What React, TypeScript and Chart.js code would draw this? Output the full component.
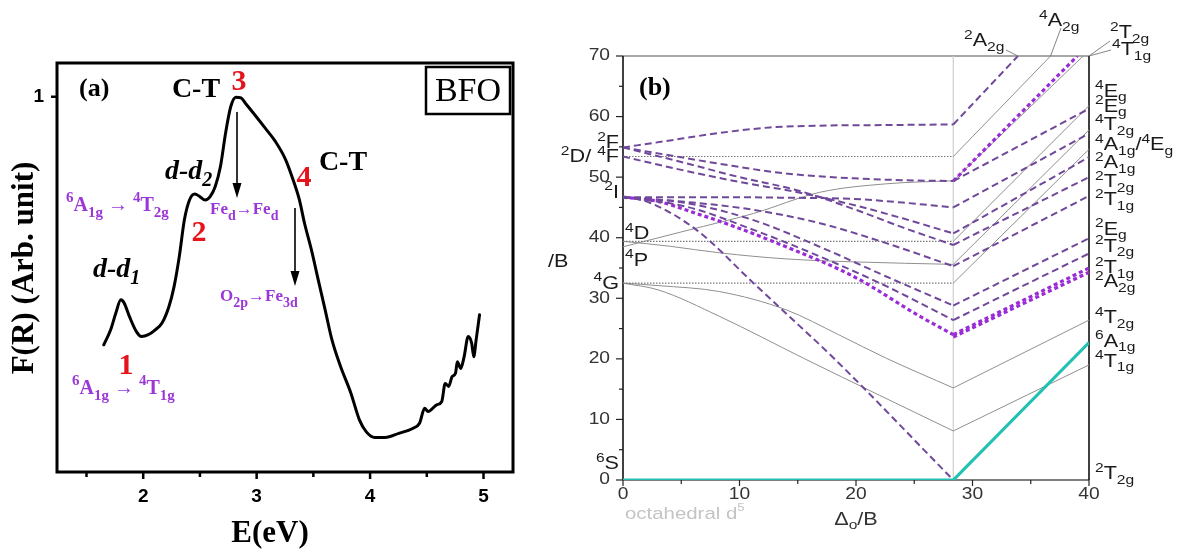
import React, { useEffect, useRef } from 'react';
import { Chart, registerables } from 'chart.js';

Chart.register(...registerables);

const SANS = '"Liberation Sans", Arial, Helvetica, sans-serif';
const SERIF = '"Liberation Serif", "Times New Roman", Times, serif';

// ================= Panel (a): F(R) spectrum of BFO =================
const energyEV = [
  1.652, 1.713, 1.758, 1.803, 1.833, 1.879, 1.94, 1.985, 2.045, 2.106,
  2.166, 2.227, 2.272, 2.318, 2.363, 2.408, 2.454, 2.499, 2.545, 2.59,
  2.635, 2.681, 2.726, 2.772, 2.817, 2.862, 2.908, 2.983, 3.074, 3.165,
  3.256, 3.331, 3.377, 3.422, 3.483, 3.543, 3.604, 3.664, 3.74, 3.831,
  3.906, 3.967, 4.042, 4.133, 4.253, 4.375, 4.436, 4.481, 4.511, 4.587,
  4.632, 4.662, 4.693, 4.723, 4.753, 4.769, 4.799, 4.829, 4.865, 4.896,
  4.914, 4.935, 4.965,
];
const reflectanceF = [
  0.339, 0.379, 0.423, 0.459, 0.45, 0.414, 0.374, 0.361, 0.366, 0.379,
  0.397, 0.441, 0.494, 0.574, 0.672, 0.725, 0.741, 0.734, 0.725, 0.734,
  0.761, 0.814, 0.903, 0.974, 0.999, 0.997, 0.98, 0.952, 0.917, 0.881,
  0.832, 0.77, 0.725, 0.663, 0.592, 0.512, 0.432, 0.352, 0.281, 0.21,
  0.139, 0.107, 0.092, 0.092, 0.103, 0.116, 0.13, 0.17, 0.161, 0.179,
  0.188, 0.236, 0.228, 0.254, 0.263, 0.294, 0.276, 0.307, 0.361, 0.343,
  0.307, 0.352, 0.419,
];
const aXMajorTicks = [2, 3, 4, 5];
const aXMinorTicks = [1.5, 2.5, 3.5, 4.5];
const aYTicks = [1];

// ================= Panel (b): Tanabe–Sugano diagram, d5 =================
const tsXTicks = [0, 10, 20, 30, 40];
const tsYTicks = [0, 10, 20, 30, 40, 50, 60, 70];
const tsMinorTicks = [5, 15, 25, 35, 45, 55, 65];

// doublet states, weak-field branch  [Δo/B, E/B]
const dblWeakA = [[0, 54.9], [3.5, 55.9], [8.3, 57.3], [12.6, 58.2], [16.9, 58.5], [22.6, 58.6], [28.35, 58.7]];
const dblWeakB = [[0, 54.9], [4, 53.6], [8.3, 52.2], [14, 50.6], [19.8, 49.8], [24, 49.5], [28.35, 49.35]];
const dblWeakC = [[0, 53.4], [5, 51.2], [10, 49.2], [15, 47.5], [20, 45.3], [24, 43.2], [28.35, 40.7]];
const dblWeakD = [[0, 54.9], [5, 52.5], [10, 50.0], [15, 47.8], [20, 44.6], [24, 41.7], [28.35, 38.8]];
const dblWeakE = [[0, 46.7], [8, 46.7], [14, 46.6], [19.8, 46.4], [24, 45.8], [28.35, 45.0]];
const dblWeakF = [[0, 46.7], [5.5, 45.9], [11.2, 44.6], [16.9, 42.4], [22.6, 39.1], [28.35, 35.3]];
const dblWeakG = [[0, 46.7], [5.5, 45.7], [11.2, 42.9], [16.9, 38.5], [22.6, 33.6], [28.35, 28.8]];
const dblWeakH = [[0, 46.7], [5.5, 45.1], [11.2, 41.3], [16.9, 36.9], [22.6, 32.0], [28.35, 26.4]];
const dblWeakI = [[0, 46.7], [3, 46.0], [6.3, 44.0], [9.2, 42.1], [14, 38.5], [19.8, 33.6], [25.5, 27.0], [28.35, 24.0]];
const dblWeakJ = [[0, 46.7], [2, 46.0], [6.3, 41.3], [11.2, 32.5], [14, 27.5], [18.1, 20.1], [28.35, 0]];

// doublet states, strong-field branch
const dblStrongA = [[28.35, 58.7], [33.9, 70]];
const dblStrongB1 = [[28.35, 49.35], [39.0, 70]];
const dblStrongB2 = [[28.35, 49.35], [40, 61.3]];
const dblStrongE = [[28.35, 45.0], [40, 57.2]];
const dblStrongC = [[28.35, 40.7], [40, 53.3]];
const dblStrongD = [[28.35, 38.8], [40, 50.0]];
const dblStrongF = [[28.35, 35.3], [40, 46.9]];
const dblStrongG = [[28.35, 28.8], [40, 39.9]];
const dblStrongH = [[28.35, 26.4], [40, 37.4]];
const dblStrongI1 = [[28.35, 24.0], [40, 35.0]];
const dblStrongI2 = [[28.35, 23.6], [40, 34.3]];

// quartet states
const qtFlat4F = [[0, 53.4], [28.35, 53.4]];
const qtFlat4D = [[0, 39.4], [28.35, 39.4]];
const qtFlat4G = [[0, 32.5], [28.35, 32.5]];
const qtWeak4P = [[0, 39.4], [4, 38.6], [8.3, 37.5], [14, 36.5], [20, 36.0], [28.35, 35.6]];
const qtWeak4Drise = [[0, 38.5], [5.5, 41.2], [11.2, 44.0], [16.9, 47.5], [22.6, 48.9], [28.35, 49.4]];
const qtWeak4T2g = [[0, 32.5], [3, 32.1], [8.3, 31.1], [14, 28.1], [18.5, 24.0], [22.6, 20.1], [28.35, 15.2]];
const qtWeak4T1g = [[0, 32.5], [3, 31.4], [8.3, 27.0], [15.5, 20.1], [22, 14.0], [28.35, 8.1]];
const qtStrong4A2g = [[28.35, 53.4], [36.7, 70]];
const qtStrong4T1gHi = [[28.35, 49.4], [39.5, 70]];
const qtStrong4Eg = [[28.35, 39.4], [40, 61.8]];
const qtStrong4T2gHi = [[28.35, 35.6], [40, 57.8]];
const qtStrong4A1g = [[28.35, 32.5], [40, 54.6]];
const qtStrong4T2g = [[28.35, 15.2], [40, 26.4]];
const qtStrong4T1g = [[28.35, 8.1], [40, 19.0]];

// sextet ground state
const sextet6A1g = [[0, 0], [28.35, 0], [40, 22.7]];
const crossoverLine = [[28.35, 0], [28.35, 70]];

// term labels
const rightTerms = ['^{4}E_{g}', '^{2}E_{g}', '^{4}T_{2g}', '^{4}A_{1g}/^{4}E_{g}', '^{2}A_{1g}', '^{2}T_{2g}', '^{2}T_{1g}', '^{2}E_{g}', '^{2}T_{2g}', '^{2}T_{1g}', '^{2}A_{2g}', '^{4}T_{2g}', '^{6}A_{1g}', '^{4}T_{1g}', '^{2}T_{2g}'];
const rightTermLevels = [64.1, 61.6, 58.6, 55.3, 52.3, 49.2, 46.2, 41.3, 38.5, 35.0, 32.7, 26.7, 22.8, 19.5, 1.0];
const freeIonTerms = ['^{2}F', '^{2}D/ ^{4}F', '^{2}I', '^{4}G', '^{6}S'];
const freeIonLevels = [55.6, 53.3, 47.4, 32.4, 2.6];
const innerTerms = ['^{4}D', '^{4}P'];
const innerLevels = [40.6, 36.2];
const topTerms = ['^{2}A_{2g}', '^{4}A_{2g}', '^{2}T_{2g}', '^{4}T_{1g}'];
const topTermAnchors = [[33.9, 70], [36.7, 70], [40, 70], [40, 70]];

// ================= text helpers =================
type Seg = { t: string; k: 'n' | 'sup' | 'sub' };
function parseTerm(s: string): Seg[] {
  const out: Seg[] = [];
  let i = 0;
  while (i < s.length) {
    const c = s[i];
    if ((c === '^' || c === '_') && s[i + 1] === '{') {
      const end = s.indexOf('}', i);
      out.push({ t: s.slice(i + 2, end), k: c === '^' ? 'sup' : 'sub' });
      i = end + 1;
    } else {
      let j = i;
      while (j < s.length && !((s[j] === '^' || s[j] === '_') && s[j + 1] === '{')) j++;
      out.push({ t: s.slice(i, j), k: 'n' });
      i = j;
    }
  }
  return out;
}

interface RichOpts {
  size: number; small?: number; family: string; weight?: string; style?: string;
  color: string; align?: 'left' | 'right' | 'center'; sx?: number; sup?: number; sub?: number;
}

function drawRich(ctx: CanvasRenderingContext2D, s: string, x: number, y: number, o: RichOpts) {
  const segs = parseTerm(s);
  const small = o.small ?? Math.round(o.size * 0.7);
  const sx = o.sx ?? 1;
  const f = (k: Seg['k']) => `${o.style ?? 'normal'} ${o.weight ?? 'normal'} ${k === 'n' ? o.size : small}px ${o.family}`;
  ctx.save();
  ctx.textBaseline = 'middle';
  ctx.textAlign = 'left';
  ctx.fillStyle = o.color;
  const ws = segs.map((sg) => { ctx.font = f(sg.k); return ctx.measureText(sg.t).width; });
  const total = ws.reduce((p, q) => p + q, 0) * sx;
  const x0 = o.align === 'right' ? x - total : o.align === 'center' ? x - total / 2 : x;
  ctx.translate(x0, y);
  ctx.scale(sx, 1);
  let px = 0;
  segs.forEach((sg, i) => {
    ctx.font = f(sg.k);
    const dy = sg.k === 'sup' ? -(o.sup ?? o.size * 0.36) : sg.k === 'sub' ? (o.sub ?? o.size * 0.32) : 0;
    ctx.fillText(sg.t, px, dy);
    px += ws[i];
  });
  ctx.restore();
}

function seg(ctx: CanvasRenderingContext2D, x1: number, y1: number, x2: number, y2: number, color: string, w: number) {
  ctx.beginPath();
  ctx.strokeStyle = color;
  ctx.lineWidth = w;
  ctx.moveTo(x1, y1);
  ctx.lineTo(x2, y2);
  ctx.stroke();
}

function arrowDown(ctx: CanvasRenderingContext2D, x: number, y1: number, y2: number) {
  seg(ctx, x, y1, x, y2 - 10, '#000', 1.6);
  ctx.beginPath();
  ctx.fillStyle = '#000';
  ctx.moveTo(x, y2);
  ctx.lineTo(x - 4.5, y2 - 15);
  ctx.lineTo(x + 4.5, y2 - 15);
  ctx.closePath();
  ctx.fill();
}

// ================= Panel (a) chart =================
const PURPLE = '#9b37d8';
const RED = '#e5141c';

const panelADecor = {
  id: 'panelADecor',
  afterDraw(chart: any) {
    const { ctx, chartArea: a, scales } = chart;
    const x = scales.x;
    const y = scales.y;
    ctx.save();
    // frame
    ctx.strokeStyle = '#000';
    ctx.lineWidth = 3;
    ctx.strokeRect(a.left, a.top, a.right - a.left, a.bottom - a.top);
    // ticks
    aXMajorTicks.forEach((v) => { const px = x.getPixelForValue(v); seg(ctx, px, a.bottom, px, a.bottom + 7, '#000', 2.5); });
    aXMinorTicks.forEach((v) => { const px = x.getPixelForValue(v); seg(ctx, px, a.bottom, px, a.bottom + 5, '#000', 2.5); });
    aYTicks.forEach((v) => { const py = y.getPixelForValue(v); seg(ctx, a.left - 6, py, a.left, py, '#000', 2.5); });

    // axis titles
    ctx.fillStyle = '#000';
    ctx.textAlign = 'center';
    ctx.textBaseline = 'middle';
    ctx.font = `bold 31px ${SERIF}`;
    ctx.fillText('E(eV)', 270, 534);
    ctx.save();
    ctx.translate(25, 268);
    ctx.rotate(-Math.PI / 2);
    ctx.fillText('F(R) (Arb. unit)', 0, 0);
    ctx.restore();

    // panel label & sample box
    ctx.font = `bold 26px ${SERIF}`;
    ctx.textAlign = 'left';
    ctx.fillText('(a)', 79, 89);
    ctx.lineWidth = 2.5;
    ctx.strokeRect(426, 67, 84, 47);
    ctx.font = `34px ${SERIF}`;
    ctx.textAlign = 'center';
    ctx.fillText('BFO', 468, 92);

    // C-T labels
    ctx.font = `bold 28px ${SERIF}`;
    ctx.fillText('C-T', 196, 90);
    ctx.fillText('C-T', 343, 163);

    // red markers
    ctx.fillStyle = RED;
    ctx.font = `bold 30px ${SERIF}`;
    ctx.fillText('3', 239, 82);
    ctx.fillText('4', 304, 178);
    ctx.fillText('2', 199, 233);
    ctx.fillText('1', 126, 366);

    // d-d labels
    drawRich(ctx, 'd-d_{2}', 165, 172, { size: 28, small: 20, family: SERIF, weight: 'bold', style: 'italic', color: '#000', sub: 9 });
    drawRich(ctx, 'd-d_{1}', 93, 270, { size: 28, small: 20, family: SERIF, weight: 'bold', style: 'italic', color: '#000', sub: 9 });

    // transitions
    drawRich(ctx, '^{6}A_{1g} \u2192 ^{4}T_{2g}', 66, 206, { size: 20, small: 15, family: SERIF, weight: 'bold', color: PURPLE, sup: 8, sub: 7 });
    drawRich(ctx, '^{6}A_{1g} \u2192 ^{4}T_{1g}', 72, 389, { size: 20, small: 15, family: SERIF, weight: 'bold', color: PURPLE, sup: 8, sub: 7 });
    drawRich(ctx, 'Fe_{d}\u2192Fe_{d}', 210, 210, { size: 17, small: 14, family: SERIF, weight: 'bold', color: PURPLE, sub: 6 });
    drawRich(ctx, 'O_{2p}\u2192Fe_{3d}', 220, 297, { size: 17, small: 14, family: SERIF, weight: 'bold', color: PURPLE, sub: 6 });

    // arrows
    arrowDown(ctx, 237, 112, 198);
    arrowDown(ctx, 295, 208, 286);
    ctx.restore();
  },
};

function buildChartA(canvas: HTMLCanvasElement) {
  return new Chart(canvas, {
    type: 'scatter',
    data: {
      datasets: [
        {
          data: energyEV.map((e, i) => ({ x: e, y: reflectanceF[i] })),
          showLine: true,
          borderColor: '#000',
          borderWidth: 3,
          pointRadius: 0,
          tension: 0.3,
          cubicInterpolationMode: 'monotone',
          borderJoinStyle: 'round',
          borderCapStyle: 'round',
        } as any,
      ],
    },
    options: {
      responsive: false,
      maintainAspectRatio: false,
      animation: false,
      events: [],
      layout: { padding: { left: 0, top: 63, right: 27, bottom: 0 } },
      plugins: { legend: { display: false }, tooltip: { enabled: false } },
      scales: {
        x: {
          type: 'linear',
          min: 1.24,
          max: 5.26,
          afterBuildTicks: (s: any) => { s.ticks = aXMajorTicks.map((v) => ({ value: v })); },
          afterFit: (s: any) => { s.height = 85; },
          grid: { display: false, drawTicks: false },
          border: { display: false },
          ticks: { color: '#000', font: { family: SANS, size: 19, weight: 'bold' }, padding: 13 },
        },
        y: {
          type: 'linear',
          min: 0,
          max: 1.09,
          afterBuildTicks: (s: any) => { s.ticks = aYTicks.map((v) => ({ value: v })); },
          afterFit: (s: any) => { s.width = 57; },
          grid: { display: false, drawTicks: false },
          border: { display: false },
          ticks: { color: '#000', font: { family: SANS, size: 19, weight: 'bold' }, padding: 13 },
        },
      },
    } as any,
    plugins: [panelADecor as any],
  });
}

// ================= Panel (b) chart =================
const TS_TEXT = '#1a1a1a';
const SX = 1.2;
const termOpts = (align: 'left' | 'right' | 'center'): RichOpts => ({ size: 18, small: 13, family: SANS, color: TS_TEXT, align, sx: SX, sup: 6, sub: 6 });

const panelBDecor = {
  id: 'panelBDecor',
  beforeDatasetsDraw(chart: any) {
    const { ctx, chartArea: a, scales } = chart;
    const x = scales.x;
    const y = scales.y;
    ctx.save();
    seg(ctx, a.left, a.top, a.right, a.top, '#8a8a8a', 1.3);
    seg(ctx, a.left, a.bottom, a.right, a.bottom, '#555', 1.3);
    seg(ctx, a.left, a.top, a.left, a.bottom, '#111', 1.6);
    seg(ctx, a.right, a.top, a.right, a.bottom, '#111', 1.6);
    tsYTicks.forEach((v) => { const py = y.getPixelForValue(v); seg(ctx, a.left - 7, py, a.left, py, '#222', 1.2); });
    tsMinorTicks.forEach((v) => { const py = y.getPixelForValue(v); seg(ctx, a.left - 4, py, a.left, py, '#222', 1.2); });
    tsXTicks.forEach((v) => { const px = x.getPixelForValue(v); seg(ctx, px, a.bottom, px, a.bottom + 6, '#222', 1.2); });
    tsMinorTicks.filter((v) => v < 40).forEach((v) => { const px = x.getPixelForValue(v); seg(ctx, px, a.bottom, px, a.bottom + 4, '#222', 1.2); });
    ctx.restore();
  },
  afterDraw(chart: any) {
    const { ctx, chartArea: a, scales } = chart;
    const x = scales.x;
    const y = scales.y;
    ctx.save();
    // tick labels
    tsYTicks.forEach((v) => drawRich(ctx, String(v), a.left - 13, y.getPixelForValue(v), { size: 16, family: SANS, color: '#333', align: 'right', sx: SX }));
    tsXTicks.forEach((v) => drawRich(ctx, String(v), x.getPixelForValue(v), a.bottom + 15, { size: 16, family: SANS, color: '#333', align: 'center', sx: SX }));

    // right-hand strong-field terms
    rightTerms.forEach((t, i) => drawRich(ctx, t, a.right + 6, y.getPixelForValue(rightTermLevels[i]), termOpts('left')));
    // free-ion terms on the left
    freeIonTerms.forEach((t, i) => drawRich(ctx, t, a.left - 4, y.getPixelForValue(freeIonLevels[i]), termOpts('right')));
    innerTerms.forEach((t, i) => drawRich(ctx, t, a.left + 2, y.getPixelForValue(innerLevels[i]), termOpts('left')));

    // top labels with leader lines
    const topPos = [[424, 41], [499, 21], [570, 33], [572, 50]];
    const leadStart = [[466, 50], [521, 28], [570, 41], [571, 50]];
    topTerms.forEach((t, i) => {
      const ax = x.getPixelForValue(topTermAnchors[i][0]);
      const ay = y.getPixelForValue(topTermAnchors[i][1]);
      seg(ctx, leadStart[i][0], leadStart[i][1], ax, ay, '#777', 0.9);
      drawRich(ctx, t, topPos[i][0], topPos[i][1], termOpts('left'));
    });

    // titles
    drawRich(ctx, '/B', 8, 262, { size: 18, family: SANS, color: TS_TEXT, align: 'left', sx: SX });
    drawRich(ctx, '(b)', 99, 88, { size: 26, family: SERIF, weight: 'bold', color: '#000', align: 'left' });
    drawRich(ctx, 'octahedral d^{5}', 85, 514, { size: 17, small: 11, family: SANS, color: '#c4c4c4', align: 'left', sx: SX, sup: 6 });
    drawRich(ctx, '\u0394_{o}/B', x.getPixelForValue(20), 520, { size: 18, small: 13, family: SANS, color: '#333', align: 'center', sx: SX, sub: 5 });
    ctx.restore();
  },
};

function pts(arr: number[][]) {
  return arr.map(([px, py]) => ({ x: px, y: py }));
}

function buildChartB(canvas: HTMLCanvasElement) {
  const base = { showLine: true, pointRadius: 0, fill: false, borderCapStyle: 'butt' };
  const curved = { tension: 0.4, cubicInterpolationMode: 'monotone' };
  const dashNormal = { borderColor: '#70489a', borderWidth: 2, borderDash: [7, 4] };
  const dashStrong = { borderColor: '#9a2cd8', borderWidth: 3.2, borderDash: [4, 3] };
  const grayLine = { borderColor: '#8f8f8f', borderWidth: 1 };
  const grayDot = { borderColor: '#7a7a7a', borderWidth: 1.1, borderDash: [1.5, 1.5] };

  const datasets: any[] = [];
  // drawn first = on top
  datasets.push({ ...base, data: pts(sextet6A1g), borderColor: '#22c1b3', borderWidth: 3.2 });

  const weakNormal = [dblWeakA, dblWeakB, dblWeakC, dblWeakD, dblWeakE, dblWeakF, dblWeakG, dblWeakH, dblWeakJ];
  weakNormal.forEach((l) => datasets.push({ ...base, ...curved, ...dashNormal, data: pts(l) }));
  datasets.push({ ...base, ...curved, ...dashStrong, data: pts(dblWeakI) });

  const strongNormal = [dblStrongA, dblStrongB2, dblStrongE, dblStrongC, dblStrongD, dblStrongF, dblStrongG, dblStrongH];
  strongNormal.forEach((l) => datasets.push({ ...base, ...dashNormal, data: pts(l) }));
  [dblStrongB1, dblStrongI1, dblStrongI2].forEach((l) => datasets.push({ ...base, ...dashStrong, data: pts(l) }));

  [qtFlat4F, qtFlat4D, qtFlat4G].forEach((l) => datasets.push({ ...base, ...grayDot, data: pts(l) }));
  [qtWeak4P, qtWeak4Drise, qtWeak4T2g, qtWeak4T1g].forEach((l) => datasets.push({ ...base, ...curved, ...grayLine, data: pts(l) }));
  [qtStrong4A2g, qtStrong4T1gHi, qtStrong4Eg, qtStrong4T2gHi, qtStrong4A1g, qtStrong4T2g, qtStrong4T1g].forEach((l) => datasets.push({ ...base, ...grayLine, data: pts(l) }));

  datasets.push({ ...base, data: pts(crossoverLine), borderColor: '#cfcfcf', borderWidth: 1.2 });

  return new Chart(canvas, {
    type: 'scatter',
    data: { datasets },
    options: {
      responsive: false,
      maintainAspectRatio: false,
      animation: false,
      events: [],
      layout: { padding: { left: 0, top: 56, right: 89, bottom: 0 } },
      plugins: { legend: { display: false }, tooltip: { enabled: false } },
      scales: {
        x: {
          type: 'linear',
          min: 0,
          max: 40,
          afterBuildTicks: (s: any) => { s.ticks = tsXTicks.map((v) => ({ value: v })); },
          afterFit: (s: any) => { s.height = 77; },
          grid: { display: false, drawTicks: false },
          border: { display: false },
          ticks: { display: false },
        },
        y: {
          type: 'linear',
          min: 0,
          max: 70,
          afterBuildTicks: (s: any) => { s.ticks = tsYTicks.map((v) => ({ value: v })); },
          afterFit: (s: any) => { s.width = 83; },
          grid: { display: false, drawTicks: false },
          border: { display: false },
          ticks: { display: false },
        },
      },
    } as any,
    plugins: [panelBDecor as any],
  });
}

export default function App() {
  const refA = useRef<HTMLCanvasElement>(null);
  const refB = useRef<HTMLCanvasElement>(null);
  useEffect(() => {
    const ca = buildChartA(refA.current as HTMLCanvasElement);
    const cb = buildChartB(refB.current as HTMLCanvasElement);
    return () => {
      ca.destroy();
      cb.destroy();
    };
  }, []);
  return (
    <div style={{ position: 'absolute', left: 0, top: 0, width: 1178, height: 557, background: '#fff', overflow: 'hidden' }}>
      <canvas ref={refA} width={540} height={557} style={{ position: 'absolute', left: 0, top: 0 }} />
      <canvas ref={refB} width={638} height={557} style={{ position: 'absolute', left: 540, top: 0 }} />
    </div>
  );
}
